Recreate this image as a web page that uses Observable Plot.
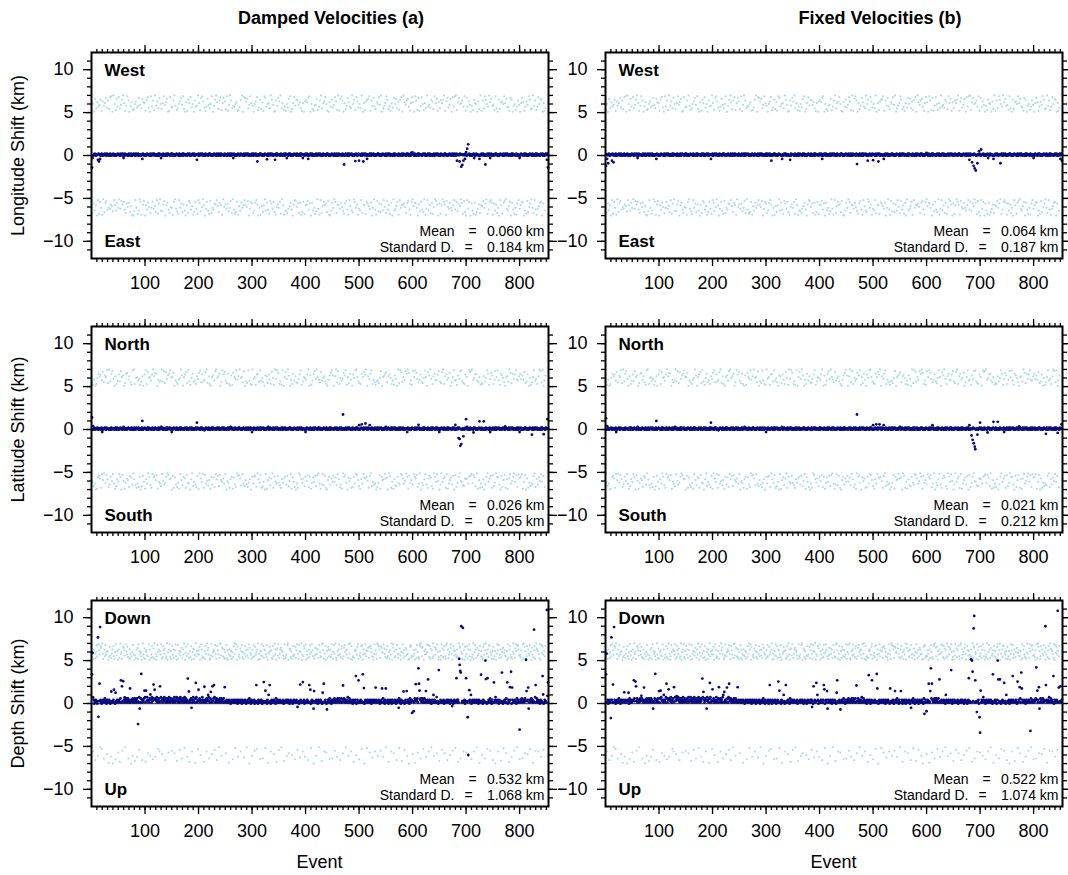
<!DOCTYPE html>
<html><head><meta charset="utf-8">
<script src="https://cdn.jsdelivr.net/npm/d3@7"></script>
<script src="https://cdn.jsdelivr.net/npm/@observablehq/plot@0.6"></script>
<style>
body{margin:0;background:#fff;font-family:"Liberation Sans",Arial,Helvetica,sans-serif;}
#root{position:relative;width:1068px;height:875px;overflow:hidden;}
.panel{position:absolute;}
.t{position:absolute;font-size:18px;color:#000;white-space:nowrap;transform:translate(-50%,-50%);}
.b{font-weight:bold;}
</style></head><body><div id="root"></div>
<script>
// ---------- text / labels ----------
const colTitles = ["Damped Velocities (a)", "Fixed Velocities (b)"];
const rowTitles = ["Longitude Shift (km)", "Latitude Shift (km)", "Depth Shift (km)"];
const topLabels = ["West", "North", "Down"];
const bottomLabels = ["East", "South", "Up"];
const meanValues = [["0.060", "0.064"], ["0.026", "0.021"], ["0.532", "0.522"]];
const stdValues = [["0.184", "0.187"], ["0.205", "0.212"], ["1.068", "1.074"]];
const xMajorTicks = [100, 200, 300, 400, 500, 600, 700, 800];
const yMajorTicks = [-10, -5, 0, 5, 10];
const nEvents = 853;

// ---------- light-blue points (one per event; a..t = +5.1..+7.0 km, A..T = -5.1..-7.0 km) ----------
const lightLon = [
"cQjFa NpHeT lBgRi DoKbS mAhPk EqCfM nJdLr GsIaO tBjHc NpEgK",
"rAeLi CoGtD kMbQh FsJnE aPgIl ScTdO jBmKf RhNqA iDeSp GlCkT",
"bHoMr EfJaQ sKgDn LcItP hBmRe FqAjN dOkGs CiTlH pEaMb QrJfK",
"gSnDt AhLcO eRjBm KqFiP sGdNa TlHbQ oCkEr MfIjS aPnDg LhRtB",
"kEcOq JsAmH fTbLg DpNiR eCjQs KaMhF oGtBl IdPnE rHcSk AqJmG",
"dLsFb OiKtC nQeAh MgRjP lDbSc IfNoE tKaHr BqGmJ pCeTi LsDkF",
"hQaNj EmBrG cTfKo SdIlP bHsAq NgEjM kReCt FoLiD aPbSn JhGqK",
"mDtRe AkHcS gNbOj QfLpI sEaMd TkGrB hCoJn FiQlE eSbPk DaRmH",
"oGlCq MsFaT jEdNb KhRiO pAcLg SnBtQ eIkDm HrFjP bCaSl TgNoE",
"fKiAr DmQcG tHbLp EsJnO aRkFd ChMqS lBgIe NtPjA oDcKr GmSfL",
"jNeBt QaGkH cRmDo FpIsL bEnTh KqAgM dSlCj OrFiP tGaNe BhJkQ",
"sCoMd HgRbE kTfAq NjLpI eDmSc BoKrG aHtFl JiQnE pCgMb SkDrA",
"lIaEs FnKcT qGbOh DrMjP cAkSe LtBgN iHfQo EmRdJ sAkCp GbTlF",
"eRnHk AoDtG bSmCq JfLiE pKaNr HgBsM tDcOl FqIjA kEnRg CsPbT",
"qBgLm DiTaF hNcRo EkSjP aLmGd QtHbI nCeKs FoAjR gMtDl BpEhS",
"iFcNs GeQaK oTdBl HmRjE sCkAp LgNfI bDqTo EaMhR jKcSg FnBiL",
"aHkDq ElTbN gRmCi PsJoF dAeKt QhBnM cSgLr IjEpD oTaFk bNe"];
const lightLat = [
"eKbPh MaTcS jFoDl GnRgB qIeAm LkCsH dQtNf EoJrB iMaSl PcHgK",
"nBfEr TkCmJ aSdLo GpIhQ lDeFb NsAtH cOjRk MgQiE bTfPl DaKnS",
"sHcMq AjEkO gRnBt FlDpI oCaSh KeMgP tBfJr NdLqE iAmCo HsGkT",
"kDpRa FgNeQ cLhSj BtImO aEkGn RqCdL sMfTb HjAoP eKgNc QlDiS",
"pAsGe KnBfR hCqMt JdOlI cSaEk NmFgQ rBtHj DlPoC aIeKs GnMqB",
"gTdJo LcRaH mEbSp FkNiQ sAhDl CtGjO kBeMr PaIfN dQsLg HcTbE",
"tMiEk DbQnA oHfLs CgRjP eKaTm BlSdI nFhOc GqAjR bEtKi MsDpL",
"cOfRb HsLaG kEqNi DtPmJ aBhSc FoKgQ lTeMd RiAnC sHbLf GkPjE",
"hJnCt QaEmS bLgFo KrDiP tCkAh MeSqN gBjOl DfRcT aIhEm NpGsK",
"mDaKl FtOeB rHcQj NgSiA pEmCs LbTkF dJoGh RaQnE jMsBt CkIfP",
"dScHo MkBqF nGtEa JlRiD oAsPc KhNeM bTfQg LdCjS rEaIk HmBoG",
"qFeTl AnDjR cKgSb HmOiP aEtLd NsBqC fGkMh JrAoE tSpDc LgIbN",
"rBkEs GpCiQ eMhAn TfLdO jHsBk NaRqG mDtFi PcSlA oEgKh BnJrT",
"fNdAq KtGcE lRoBh SjMpI aFeNk DsTgC hQbLm EiArJ sKfOd PcGnH",
"kGaMs EqDrB tLhCj FnPoA gSeIk RbMdQ cHlTf NjEsA oKbGi DpRmC",
"cPhLr AkFsE gNbTo DmQjI eCaRk HlSfG tBpMd JoEiA nKsCh QgBlF",
"oEiBm ShKqC dTfGn RaLjP bMeOk DsAgQ iHcNl FtJrB eKsDa gQm"];
const lightDep = [
"dkFbm hPcjr eKslg AqoCt hbNme rgjIk aSdpf LchmT qebjO sfkaG",
"mcRth jbEqo lfAsk gpdNc mbhTe jKrga QfcmL obsDk hjeaP tgcnb",
"Rjlfe HsamK cgqdO nbtLh aerjC mFkgs bIdql hnPce tajGm sdkbE",
"qgmcH lseaQ rbhkD fjoNc mgtBa ipeLs hcRkd qaFjn bmgSt ekhCl",
"gpaJs mcedR kbqhF tlogN acfsI ejmkD rhbPq lgAcs tfKon edmbj",
"Hrcla gSmfe kbjOd qhtBm sapLe gcnFk rdjbM hqelA fmcsT oigbK",
"ldreE pgjCm tahbO kfseN qcmlB gdraS hjpkF lcbqe Itgma RnfsD",
"chmoA ljfbQ secgK rtaHn mdkbJ fqegO pclsD hbrkM jtagF eqnLs",
"akgcP mdrhB jsleT bfogK nhmcA rjedQ stlbF hqaGk cpmeO ldgsN",
"bjrhE tcaLk fmsgP dnqbH eorjA lgmcK shtbF qadeR ckmlJ gpsbO",
"fidqC ragmT hselB kocpG qnjeM dahsF lgbtK rqmcE poijL snhdA",
"mcqeR jblgF taosH kdemP rgchB nfajQ siclD eomgK haTbp rqdfI",
"elhaS mcrjG dbsqN toepC akgmL hsjrF dqbnA lcteK pgomH sjadQ",
"kafsD ndlqH ebrtP mcgjJ oshaE qlfkB gdmeR tcqoN jhbsF lapeG",
"hqcmK selaO dgtbF jrmcA ofhlS qekdJ bpsgN ltahC mdrqE jgbkP",
"pbekT ahslF rcgmQ djnoB ilfeH kascR mqgdL bjthE cnskA qrmfO",
"gdlaN sctpH kbeqI mhfrC jaogS dlqbE tnmkF hcsaL ripgD keq"];

// ---------- dark-blue near-zero points (digit d = base + d*step km) ----------
const darkLonBase = [
"67567 86576 75867 65786 57668 76586 67578 65767 86576 57687",
"76586 67857 58676 76568 67587 56786 75867 68576 57668 86757",
"65787 76658 57686 68757 76568 58677 67586 75768 56876 67587",
"86576 57687 76586 65778 58676 67568 76857 57686 68576 75678",
"57686 68757 65876 76568 87657 56786 67586 75867 58676 76587",
"67568 76586 58677 86576 57687 65786 76658 57686 68757 76568",
"75867 68576 57668 86757 65787 76658 57686 68757 76568 58677",
"66587 75768 56876 67587 86576 57687 76586 65778 58676 67568",
"76857 57686 68576 75678 57686 68757 65876 76568 87657 56786",
"67586 75867 58676 76587 67568 76586 58677 86576 57687 65786",
"76658 57686 68757 76568 75867 68576 57668 86757 65787 76658",
"57686 68757 76568 58677 66587 75768 56876 67587 86576 57687",
"76586 65778 58676 67568 76857 57686 68576 75678 57686 68757",
"65876 76568 87657 56786 67586 75867 58676 76587 67568 76586",
"58677 86576 57687 65786 76658 57686 68757 76568 75867 68576",
"57668 86757 65787 76658 57686 68757 76568 58677 66587 75768",
"56876 67587 86576 57687 76586 65778 58676 67568 76857 57686 685"];
const darkLatBase = [
"65768 57676 86567 76586 57678 65867 76576 58676 67568 75867",
"56786 67576 85676 57687 66758 76568 57686 67857 76586 56787",
"76568 58676 67587 65786 76658 57686 68757 76568 58677 86576",
"57687 76586 65778 58676 67568 76857 57686 68576 75678 56876",
"67587 86576 45687 76586 65778 58676 67568 76857 57686 68576",
"75678 57686 68757 65876 76568 87657 56786 67586 75867 58676",
"76587 67568 76586 58677 86576 57687 65786 76658 57686 68757",
"76568 75867 68576 57668 86757 65787 76658 57686 68757 76568",
"58677 66587 75768 56876 67587 86576 57687 76586 65778 58676",
"67568 76857 57686 68576 75678 57686 68757 65876 76568 87657",
"56786 67586 75867 58676 76587 67568 76586 58677 86576 57687",
"65786 76658 57686 68757 76568 75867 68576 57668 86757 65787",
"76658 57686 68757 76568 58677 66587 75768 56876 67587 86576",
"57687 76586 65778 58676 67568 76857 57686 68576 75678 57686",
"68757 65876 76568 87657 56786 67586 75867 58676 76587 67568",
"76586 58677 86576 57687 65786 76658 57686 68757 76568 75867",
"68576 57668 86757 65787 76658 57686 68757 76568 58677 66587 757"];
const darkDepBase = [
"34352 43534 25343 45324 35436 34253 43542 35343 54326 43534",
"45364 35463 54356 43645 36354 46353 64536 45374 36453 54637",
"36475 43564 53746 35465 47354 63547 45365 74536 46357 43654",
"53647 35476 43563 74536 45374 63546 37453 64537 45364 73546",
"46354 37453 64536 45374 36453 54637 35463 54356 43645 36354",
"43534 35342 45343 53435 34253 43543 25343 45324 35436 34253",
"34352 43534 25343 45324 35436 34253 43542 35343 54326 43534",
"35343 43524 34353 45342 35434 23543 43535 34243 53434 35243",
"43534 35342 45343 53435 34253 43543 25343 45324 35436 34253",
"35463 54356 43645 36354 46353 45374 36453 34253 43542 35343",
"43534 35342 45343 53435 34253 43543 25343 45324 35436 34253",
"34352 43534 25343 45324 35436 34253 43542 35343 54326 43534",
"45364 35463 54356 43645 36354 43534 35342 45343 53435 34253",
"35343 43524 34353 45342 35434 23543 43535 34243 53434 35243",
"43534 35342 45343 53435 34253 43543 25343 45324 35436 34253",
"34352 43534 25343 45324 35436 34253 43542 35343 54326 43534",
"35463 54356 43645 36354 46353 45374 36453 34253 43542 35343 435"];

// ---------- dark-blue outliers [event, km] ----------
const outLonA = [[1,-1.4],[2,-0.3],[12,-0.5],[14,-0.7],[16,-0.4],[60,-0.3],[95,-0.4],[130,-0.3],[197,-0.5],[265,-0.3],[310,-0.7],[328,-0.45],[343,-0.5],[365,-0.3],[395,-0.3],[405,-0.4],[472,-1.05],[493,-0.65],[500,-0.6],[508,-0.7],[515,-0.4],[597,0.3],[600,0.35],[683,-0.6],[688,-0.7],[691,-1.3],[693,-1.1],[695,-0.6],[698,-0.4],[700,0.4],[702,0.8],[704,1.3],[715,-0.3],[725,-0.4],[736,-1.05],[745,-0.3],[800,-0.3],[851,-0.5],[853,-1.4]];
const outLonB = [[1,-1.2],[3,-0.4],[5,-0.9],[12,-0.6],[15,-0.8],[60,-0.3],[95,-0.4],[197,-0.4],[310,-0.6],[330,-0.4],[345,-0.5],[405,-0.4],[470,-1.0],[490,-0.6],[500,-0.55],[510,-0.7],[520,-0.4],[600,0.3],[680,-0.5],[685,-0.8],[688,-1.2],[690,-1.5],[692,-1.75],[695,-0.9],[698,0.5],[702,0.7],[715,-0.3],[725,-0.4],[738,-0.9],[800,-0.3],[850,-0.4],[853,-0.6]];
const outLatA = [[1,1.4],[3,0.4],[20,-0.3],[60,0.3],[95,1.0],[130,0.3],[150,-0.3],[197,0.8],[260,0.3],[300,-0.3],[330,0.3],[400,-0.3],[470,1.75],[500,0.5],[505,0.6],[512,0.7],[520,0.5],[550,0.3],[590,-0.3],[611,0.55],[650,-0.3],[680,0.55],[686,-1.0],[688,-1.1],[689,-1.9],[691,-1.7],[695,-0.8],[700,1.2],[702,0.3],[714,-0.35],[725,0.95],[733,0.95],[745,-0.3],[773,0.35],[800,-0.3],[823,-0.6],[845,-0.55],[852,1.2]];
const outLatB = [[1,1.3],[3,0.4],[20,-0.3],[60,0.3],[95,1.0],[130,0.3],[197,0.8],[260,0.3],[300,-0.3],[330,0.3],[470,1.75],[500,0.5],[506,0.6],[512,0.6],[520,0.5],[550,0.3],[611,0.5],[680,0.5],[684,-0.7],[686,-1.2],[688,-1.6],[690,-2.0],[691,-2.3],[695,-0.6],[700,0.8],[714,-0.35],[725,0.9],[733,0.9],[745,-0.3],[773,0.35],[823,-0.5],[845,-0.4],[852,0.6]];
const outDepA = [[1,3.4],[2,5.9],[3,0.7],[12,7.7],[13,-1.55],[15,2.3],[16,8.9],[37,1.4],[42,1.6],[45,1.25],[55,2.7],[57,2.0],[59,2.6],[62,0.7],[72,1.75],[87,-2.4],[90,-0.6],[93,3.45],[99,1.5],[102,1.5],[110,1.05],[116,2.2],[118,1.6],[128,2.0],[131,0.6],[180,2.9],[182,1.4],[187,-0.5],[195,2.4],[200,1.6],[211,1.95],[218,1.0],[223,1.35],[226,2.0],[229,2.15],[249,1.9],[308,2.15],[322,2.5],[325,1.5],[331,1.0],[333,2.15],[385,-0.4],[390,2.2],[395,2.5],[407,2.15],[409,1.6],[415,-0.6],[416,1.45],[432,1.25],[434,2.3],[440,-0.7],[470,2.1],[494,3.2],[499,2.7],[507,3.4],[509,1.8],[531,1.85],[543,1.75],[550,1.75],[574,-0.5],[583,1.4],[589,1.45],[599,-1.1],[602,-0.9],[606,2.25],[611,4.1],[612,2.3],[613,1.5],[625,1.45],[629,2.8],[639,1.0],[645,0.75],[649,3.9],[674,-0.3],[682,2.95],[687,5.2],[688,4.5],[689,3.8],[690,3.6],[691,9.0],[694,8.8],[700,2.95],[703,-1.6],[704,-6.0],[706,1.55],[709,1.0],[728,3.35],[736,5.0],[737,2.85],[740,2.95],[752,2.45],[755,0.75],[767,3.6],[777,2.45],[782,1.9],[784,3.7],[786,1.85],[800,-3.05],[812,5.1],[813,1.45],[816,1.85],[817,-0.6],[827,8.6],[830,2.15],[843,3.2],[844,1.05],[851,10.9],[852,0.9],[853,2.45]];
const outDepB = [[1,3.4],[2,5.8],[10,-1.7],[11,7.7],[14,2.2],[16,8.9],[35,1.3],[43,1.25],[53,2.7],[56,2.55],[57,2.0],[67,0.9],[72,1.85],[89,-0.6],[93,3.45],[100,1.45],[103,1.5],[109,1.0],[114,2.3],[118,1.65],[128,1.9],[133,0.85],[181,2.9],[183,1.35],[189,-0.6],[195,2.4],[200,1.65],[212,1.9],[220,1.0],[222,1.35],[227,1.85],[231,2.3],[247,1.9],[307,2.15],[323,2.55],[325,1.5],[333,1.0],[337,2.15],[386,-0.4],[389,2.0],[394,2.4],[396,1.0],[408,2.15],[409,1.65],[414,1.45],[415,-0.6],[432,1.25],[433,2.7],[439,-0.7],[469,2.1],[492,3.3],[498,2.7],[507,3.45],[508,1.75],[532,1.75],[541,1.45],[552,1.45],[571,-0.5],[596,-1.2],[600,-0.9],[604,2.3],[607,1.45],[608,4.1],[610,2.3],[624,2.8],[636,1.0],[646,3.9],[679,2.95],[683,5.15],[685,5.0],[686,3.7],[688,8.75],[689,10.2],[691,2.7],[694,-1.0],[699,-1.6],[700,-3.4],[701,1.5],[706,0.75],[724,3.4],[733,5.0],[734,2.8],[737,2.8],[745,2.4],[749,1.0],[761,3.2],[770,2.55],[774,1.9],[777,3.6],[778,1.75],[794,-3.2],[805,4.2],[807,1.5],[810,1.9],[811,-0.6],[822,9.0],[823,2.15],[837,3.2],[845,10.8],[847,1.85],[850,2.0]];

// ---------- decoding ----------
function decodeLetters(lines) {
  const s = lines.join("").replace(/\s+/g, "");
  const out = [];
  for (let i = 0; i < s.length && i < nEvents; i++) {
    const ch = s[i], low = ch.toLowerCase();
    const mag = 5 + (low.charCodeAt(0) - 96) / 10;
    out.push({event: i + 1, value: ch === low ? mag : -mag});
  }
  return out;
}
function decodeDigits(lines, base, step, outliers) {
  const s = lines.join("").replace(/\s+/g, "");
  const skip = new Set(outliers.map(d => d[0]));
  const out = [];
  for (let i = 0; i < s.length && i < nEvents; i++) {
    if (!skip.has(i + 1)) out.push({event: i + 1, value: base + (+s[i]) * step});
  }
  for (const [e, v] of outliers) out.push({event: e, value: v});
  return out;
}

const lightRows = [decodeLetters(lightLon), decodeLetters(lightLat), decodeLetters(lightDep)];
const darkPanels = [
  [decodeDigits(darkLonBase, -0.42, 0.08, outLonA), decodeDigits(darkLonBase, -0.42, 0.08, outLonB)],
  [decodeDigits(darkLatBase, -0.42, 0.08, outLatA), decodeDigits(darkLatBase, -0.42, 0.08, outLatB)],
  [decodeDigits(darkDepBase, -0.32, 0.15, outDepA), decodeDigits(darkDepBase, -0.32, 0.15, outDepB)]
];

// ---------- layout ----------
const frameW = 457, frameH = 206;
const colLeft = [91, 605];
const rowTop = [52, 326, 600];
const root = document.getElementById("root");
const blank = () => "";
const txt = (s, o) => Plot.text([s], Object.assign({text: d => d, lineAnchor: "middle"}, o));

for (let r = 0; r < 3; r++) {
  for (let c = 0; c < 2; c++) {
    const ml = c === 0 ? 91 : 65, mr = c === 0 ? 14 : 6;
    const marks = [
      Plot.dot(lightRows[r], {x: "event", y: "value", r: 1.05, fill: "#add8e6", stroke: null}),
      Plot.ruleY([0], {stroke: "#555", strokeWidth: 1.4}),
      Plot.dot(darkPanels[r][c], {x: "event", y: "value", r: 1.4, fill: "#0a0a80", stroke: null}),
      Plot.frame({stroke: "black", strokeWidth: 2}),
      Plot.axisY({anchor: "left", ticks: yMajorTicks, tickSize: 8, tickPadding: 10, fontSize: 18, label: null, strokeWidth: 1.3}),
      Plot.axisY({anchor: "left", ticks: d3.range(-11, 12), tickSize: 4, tickFormat: blank, label: null, strokeWidth: 1.3}),
      Plot.axisY({anchor: "right", ticks: yMajorTicks, tickSize: 8, tickFormat: blank, label: null, strokeWidth: 1.3}),
      Plot.axisY({anchor: "right", ticks: d3.range(-11, 12), tickSize: 4, tickFormat: blank, label: null, strokeWidth: 1.3}),
      Plot.axisX({anchor: "bottom", ticks: xMajorTicks, tickSize: 8, tickPadding: 10, fontSize: 18, label: null, strokeWidth: 1.3}),
      Plot.axisX({anchor: "bottom", ticks: d3.range(10, 854, 10), tickSize: 4, tickFormat: blank, label: null, strokeWidth: 1.3}),
      Plot.axisX({anchor: "top", ticks: xMajorTicks, tickSize: 8, tickFormat: blank, label: null, strokeWidth: 1.3}),
      Plot.axisX({anchor: "top", ticks: d3.range(10, 854, 10), tickSize: 4, tickFormat: blank, label: null, strokeWidth: 1.3}),
      txt(topLabels[r], {frameAnchor: "top-left", dx: 13, dy: 18, textAnchor: "start", fontWeight: "bold", fontSize: 17}),
      txt(bottomLabels[r], {frameAnchor: "bottom-left", dx: 13, dy: -17, textAnchor: "start", fontWeight: "bold", fontSize: 17}),
      txt("Mean", {frameAnchor: "bottom-right", dx: -94, dy: -27, textAnchor: "end", fontSize: 14}),
      txt("Standard D.", {frameAnchor: "bottom-right", dx: -94, dy: -11, textAnchor: "end", fontSize: 14}),
      txt("=", {frameAnchor: "bottom-right", dx: -76, dy: -27, textAnchor: "middle", fontSize: 14}),
      txt("=", {frameAnchor: "bottom-right", dx: -80, dy: -11, textAnchor: "middle", fontSize: 14}),
      txt(meanValues[r][c] + " km", {frameAnchor: "bottom-right", dx: -4, dy: -27, textAnchor: "end", fontSize: 14}),
      txt(stdValues[r][c] + " km", {frameAnchor: "bottom-right", dx: -4, dy: -11, textAnchor: "end", fontSize: 14})
    ];
    if (c === 0) {
      marks.push(txt(rowTitles[r], {frameAnchor: "left", dx: -73, rotate: -90, textAnchor: "middle", fontSize: 18}));
    }
    const svg = Plot.plot({
      width: ml + frameW + mr,
      height: 10 + frameH + 40,
      marginLeft: ml, marginRight: mr, marginTop: 10, marginBottom: 40,
      x: {domain: [0, 854], label: null},
      y: {domain: [-12, 12], label: null},
      style: {fontFamily: '"Liberation Sans", Arial, Helvetica, sans-serif', fontSize: "18px", color: "black", background: "transparent", overflow: "visible", maxWidth: "none"},
      marks
    });
    const div = document.createElement("div");
    div.className = "panel";
    div.style.left = (colLeft[c] - ml) + "px";
    div.style.top = (rowTop[r] - 10) + "px";
    div.appendChild(svg);
    root.appendChild(div);
  }
}

function addText(t, x, y, cls) {
  const d = document.createElement("div");
  d.className = "t " + (cls || "");
  d.style.left = x + "px";
  d.style.top = y + "px";
  d.textContent = t;
  root.appendChild(d);
}
addText(colTitles[0], 331, 18, "b");
addText(colTitles[1], 880, 18, "b");
addText("Event", colLeft[0] + frameW / 2, 862);
addText("Event", colLeft[1] + frameW / 2, 862);
</script></body></html>
